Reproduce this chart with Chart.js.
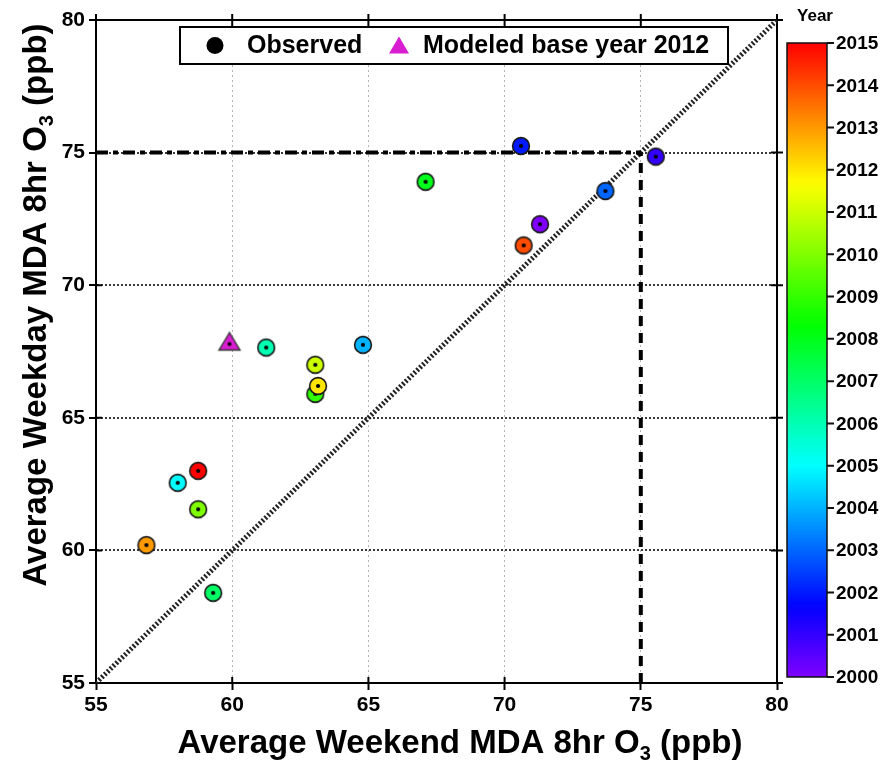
<!DOCTYPE html>
<html><head><meta charset="utf-8">
<script src="https://cdn.jsdelivr.net/npm/chart.js@4.4.0/dist/chart.umd.min.js"></script>
<style>html,body{margin:0;padding:0;background:#fff}#wrap{width:881px;height:782px;position:relative}</style>
</head><body><div id="wrap"><canvas id="c" width="881" height="782"></canvas></div>
<script>
// ---------------- data ----------------
const years      = [2000, 2001, 2002, 2003, 2004, 2005, 2006, 2007, 2008, 2009, 2010, 2011, 2012, 2013, 2014, 2015];
const weekendO3  = [71.3, 75.55, 70.6, 73.7, 64.8, 58.0, 61.25, 59.3, 67.1, 63.05, 58.75, 63.05, 63.15, 56.85, 70.7, 58.75];
const weekdayO3  = [72.3, 74.85, 75.25, 73.55, 67.75, 62.55, 67.65, 58.4, 73.9, 65.9, 61.55, 67.0, 66.2, 60.2, 71.5, 63.0];
const modeledBaseYear = 2012;
const modeledWeekend  = [59.9];
const modeledWeekday  = [67.8];
const axisTicks       = [55, 60, 65, 70, 75, 80];
const standardLevel   = 75;          // ppb
const oneToOneRange   = [55, 80];
const colorbarYears   = [2000, 2001, 2002, 2003, 2004, 2005, 2006, 2007, 2008, 2009, 2010, 2011, 2012, 2013, 2014, 2015];
const seriesLabels    = ['Observed', 'Modeled base year ' + modeledBaseYear];
const xTitleParts     = ['Average Weekend MDA 8hr O', '3', ' (ppb)'];
const yTitleParts     = ['Average Weekday MDA 8hr O', '3', ' (ppb)'];
const colorbarTitle   = 'Year';

// ---------------- styling helpers ----------------
const FONT = '"Liberation Sans", Arial, sans-serif';
const yMin = colorbarYears[0], yMax = colorbarYears[colorbarYears.length - 1];
function hsv(h, s, v) {
  const f = n => { const k = (n + h / 60) % 6; return v - v * s * Math.max(0, Math.min(k, 4 - k, 1)); };
  return `rgb(${Math.round(f(5) * 255)},${Math.round(f(3) * 255)},${Math.round(f(1) * 255)})`;
}
function yearColor(y) { return hsv((yMax - y) / (yMax - yMin) * 270, 1, 1); }

function circleMarker(color) {
  const c = document.createElement('canvas'); c.width = c.height = 22;
  const g = c.getContext('2d');
  g.beginPath(); g.arc(11, 11, 8.4, 0, Math.PI * 2); g.fillStyle = color; g.fill();
  g.lineWidth = 1.6; g.strokeStyle = '#1a1a1a'; g.stroke();
  g.beginPath(); g.arc(11, 11, 2.1, 0, Math.PI * 2); g.fillStyle = '#000'; g.fill();
  return c;
}
function triangleMarker(color) {
  const c = document.createElement('canvas'); c.width = c.height = 26;
  const g = c.getContext('2d');
  g.beginPath(); g.moveTo(13, 2); g.lineTo(2.5, 19.5); g.lineTo(23.5, 19.5); g.closePath();
  g.fillStyle = color; g.fill(); g.lineWidth = 1.4; g.strokeStyle = '#333'; g.stroke();
  g.beginPath(); g.arc(13, 13.5, 2.0, 0, Math.PI * 2); g.fillStyle = '#000'; g.fill();
  return c;
}
const MODEL_COLOR = '#d81ed0';

// ---------------- datasets ----------------
const observedPts = years.map((y, i) => ({ x: weekendO3[i], y: weekdayO3[i] }));
const modeledPts = modeledWeekend.map((v, i) => ({ x: v, y: modeledWeekday[i] }));

const datasets = [
  { label: seriesLabels[1], data: modeledPts, order: 0,
    pointStyle: modeledPts.map(() => triangleMarker(MODEL_COLOR)), pointRadius: 10, showLine: false },
  { label: seriesLabels[0], data: observedPts, order: 1,
    pointStyle: years.map(y => circleMarker(yearColor(y))), pointRadius: 10, showLine: false },
  { label: '1:1', data: oneToOneRange.map(v => ({ x: v, y: v })), order: 5, showLine: true,
    borderColor: '#222', borderWidth: 5, borderDash: [2, 2], pointRadius: 0, fill: false },
  { label: 'std-h', data: [{ x: oneToOneRange[0], y: standardLevel }, { x: standardLevel, y: standardLevel }], order: 4,
    showLine: true, borderColor: '#000', borderWidth: 4, borderDash: [12, 5, 5, 5], pointRadius: 0, fill: false },
  { label: 'std-v', data: [{ x: standardLevel, y: oneToOneRange[0] }, { x: standardLevel, y: standardLevel }], order: 4,
    showLine: true, borderColor: '#000', borderWidth: 4, borderDash: [10, 7], pointRadius: 0, fill: false }
];

// ---------------- plugins ----------------
function drawSubTitle(ctx, parts, size) {
  const big = `bold ${size}px ${FONT}`, small = `bold ${Math.round(size * 0.62)}px ${FONT}`;
  ctx.font = big; const w0 = ctx.measureText(parts[0]).width, w2 = ctx.measureText(parts[2]).width;
  ctx.font = small; const w1 = ctx.measureText(parts[1]).width;
  const total = w0 + w1 + w2;
  let x = -total / 2;
  ctx.textBaseline = 'alphabetic'; ctx.textAlign = 'left'; ctx.fillStyle = '#000';
  ctx.font = big; ctx.fillText(parts[0], x, 0); x += w0;
  ctx.font = small; ctx.fillText(parts[1], x, size * 0.2); x += w1;
  ctx.font = big; ctx.fillText(parts[2], x, 0);
}

const decorPlugin = {
  id: 'decor',
  beforeDatasetsDraw(chart) {
    const { ctx, chartArea: a, scales } = chart;
    ctx.save();
    ctx.strokeStyle = '#000'; ctx.lineWidth = 2; ctx.setLineDash([]);
    ctx.beginPath();
    ctx.moveTo(a.left, a.top); ctx.lineTo(a.right, a.top); ctx.lineTo(a.right, a.bottom);
    ctx.stroke();
    const t = 6;
    ctx.beginPath();
    axisTicks.forEach(v => {
      const px = scales.x.getPixelForValue(v), py = scales.y.getPixelForValue(v);
      ctx.moveTo(px, a.bottom); ctx.lineTo(px, a.bottom - t);
      ctx.moveTo(px, a.top - t); ctx.lineTo(px, a.top + t);
      ctx.moveTo(a.left, py); ctx.lineTo(a.left + t, py);
      ctx.moveTo(a.right - t, py); ctx.lineTo(a.right + t, py);
    });
    ctx.stroke();
    ctx.restore();
  },
  afterDraw(chart) {
    const { ctx } = chart;
    ctx.save();
    // axis titles
    ctx.save(); ctx.translate(460, 753); drawSubTitle(ctx, xTitleParts, 33); ctx.restore();
    ctx.save(); ctx.translate(46, 305); ctx.rotate(-Math.PI / 2); drawSubTitle(ctx, yTitleParts, 33); ctx.restore();

    // legend
    const lx = 180, ly = 27, lw = 548, lh = 37, cy = ly + lh / 2;
    ctx.fillStyle = '#fff'; ctx.fillRect(lx, ly, lw, lh);
    ctx.lineWidth = 2; ctx.strokeStyle = '#000'; ctx.setLineDash([]); ctx.strokeRect(lx, ly, lw, lh);
    ctx.beginPath(); ctx.arc(215, cy, 8.5, 0, Math.PI * 2); ctx.fillStyle = '#000'; ctx.fill();
    ctx.beginPath(); ctx.moveTo(399, cy - 9); ctx.lineTo(389, cy + 8); ctx.lineTo(409, cy + 8); ctx.closePath();
    ctx.fillStyle = MODEL_COLOR; ctx.fill();
    ctx.fillStyle = '#000'; ctx.font = `bold 25px ${FONT}`; ctx.textBaseline = 'middle'; ctx.textAlign = 'left';
    ctx.fillText(chart.data.datasets[1].label, 247, cy + 1);
    ctx.fillText(chart.data.datasets[0].label, 423, cy + 1);

    // colour bar
    const bx = 787, bw = 40, bTop = 43, bBot = 677;
    const grad = ctx.createLinearGradient(0, bBot, 0, bTop);
    for (let i = 0; i <= 60; i++) { const yr = yMin + (yMax - yMin) * i / 60; grad.addColorStop(i / 60, yearColor(yr)); }
    ctx.fillStyle = grad; ctx.fillRect(bx, bTop, bw, bBot - bTop);
    ctx.lineWidth = 1.5; ctx.strokeStyle = '#111'; ctx.strokeRect(bx, bTop, bw, bBot - bTop);
    ctx.font = `bold 19px ${FONT}`; ctx.fillStyle = '#000'; ctx.textBaseline = 'middle'; ctx.textAlign = 'left';
    ctx.lineWidth = 2; ctx.beginPath();
    colorbarYears.forEach(yr => {
      const py = bBot - (yr - yMin) / (yMax - yMin) * (bBot - bTop);
      ctx.moveTo(bx + bw, py); ctx.lineTo(bx + bw + 7, py);
      ctx.fillText(String(yr), bx + bw + 9, py + 1);
    });
    ctx.stroke();
    ctx.font = `bold 17px ${FONT}`; ctx.textAlign = 'center'; ctx.textBaseline = 'alphabetic';
    ctx.fillText(colorbarTitle, 815, 21);
    ctx.restore();
  }
};

const tickFont = { family: FONT, size: 21, weight: 'bold' };
new Chart(document.getElementById('c'), {
  type: 'scatter',
  data: { datasets },
  plugins: [decorPlugin],
  options: {
    responsive: false, animation: false, devicePixelRatio: 1,
    layout: { padding: { left: 0, right: 104, top: 20, bottom: 0 } },
    plugins: { legend: { display: false }, tooltip: { enabled: false } },
    elements: { point: { hoverRadius: 10 } },
    scales: {
      x: {
        type: 'linear', min: axisTicks[0], max: axisTicks[axisTicks.length - 1],
        afterBuildTicks: s => { s.ticks = axisTicks.map(v => ({ value: v })); },
        afterFit: s => { s.height = 99; },
        ticks: { font: tickFont, color: '#000', padding: 3, maxRotation: 0 },
        grid: { color: '#b4b4b4', lineWidth: 1, tickColor: '#000', tickWidth: 2, tickLength: 7, tickBorderDash: [] },
        border: { display: true, color: '#000', width: 2, dash: [2, 3] }
      },
      y: {
        type: 'linear', min: axisTicks[0], max: axisTicks[axisTicks.length - 1],
        afterBuildTicks: s => { s.ticks = axisTicks.map(v => ({ value: v })); },
        afterFit: s => { s.width = 96; },
        ticks: { font: tickFont, color: '#000', padding: 4 },
        grid: { color: '#3a3a3a', lineWidth: 2, tickColor: '#000', tickWidth: 2, tickLength: 7, tickBorderDash: [] },
        border: { display: true, color: '#000', width: 2, dash: [2, 2] }
      }
    }
  }
});
</script></body></html>
